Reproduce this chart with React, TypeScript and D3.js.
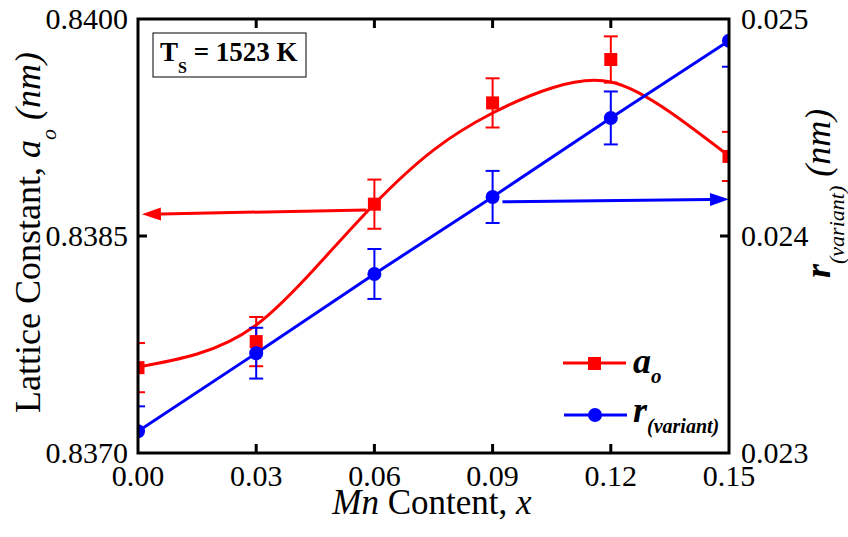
import React, { useEffect, useRef } from 'react'
import * as d3 from 'd3'

// Mn content x and measured values
const mnContent = [0, 0.03, 0.06, 0.09, 0.12, 0.15]
const latticeA = [0.83759, 0.83777, 0.83872, 0.83942, 0.83972, 0.83905]
const latticeErr = [0.00017, 0.00017, 0.00017, 0.00017, 0.00016, 0.00017]
const rVariant = [0.0231, 0.02346, 0.023825, 0.02418, 0.024544, 0.0249]
const rErr = [0.000115, 0.000117, 0.000115, 0.00012, 0.000122, 0.00012]

// fitted curve for a_o
const fitX = [0, 0.015, 0.03, 0.045, 0.06, 0.075, 0.09, 0.105, 0.12, 0.135, 0.15]
const fitA = [0.837594, 0.837684, 0.837885, 0.838279, 0.838721, 0.839094, 0.83935, 0.839523, 0.839565, 0.839357, 0.839053]

const xTicks = [0, 0.03, 0.06, 0.09, 0.12, 0.15]
const leftTicks = [0.837, 0.8385, 0.84]
const rightTicks = [0.023, 0.024, 0.025]

// arrows pointing to each axis: [x, value]
const redArrow = [[0.058, 0.83868], [0.001, 0.83865]]
const blueArrow = [[0.0925, 0.024158], [0.15, 0.024169]]

const RED = '#ff0000'
const BLUE = '#0000ff'
const FONT = 'Liberation Serif, Times New Roman, serif'

const App = () => {
  const ref = useRef<SVGSVGElement>(null)

  useEffect(() => {
    document.body.style.margin = '0'
    const width = 848
    const height = 537
    const left = 138
    const right = 729
    const top = 19
    const bottom = 453

    const svg = d3.select(ref.current)
    svg.selectAll('*').remove()
    svg.attr('width', width).attr('height', height)

    const x = d3.scaleLinear().domain([0, 0.15]).range([left, right])
    const yL = d3.scaleLinear().domain([0.837, 0.84]).range([bottom, top])
    const yR = d3.scaleLinear().domain([0.023, 0.025]).range([bottom, top])

    svg
      .append('defs')
      .append('clipPath')
      .attr('id', 'plot-clip')
      .append('rect')
      .attr('x', left)
      .attr('y', top)
      .attr('width', right - left)
      .attr('height', bottom - top)

    const plot = svg.append('g').attr('clip-path', 'url(#plot-clip)')

    // a_o fit curve
    const fitLine = d3
      .line<number>()
      .x((d, i) => x(fitX[i]))
      .y((d) => yL(d))
      .curve(d3.curveNatural)
    plot
      .append('path')
      .attr('d', fitLine(fitA))
      .attr('fill', 'none')
      .attr('stroke', RED)
      .attr('stroke-width', 3)

    // r line
    const rLine = d3
      .line<number>()
      .x((d, i) => x(mnContent[i]))
      .y((d) => yR(d))
    plot
      .append('path')
      .attr('d', rLine(rVariant))
      .attr('fill', 'none')
      .attr('stroke', BLUE)
      .attr('stroke-width', 3)

    const errorBars = (vals: number[], errs: number[], y: d3.ScaleLinear<number, number>, color: string) => {
      const g = plot.append('g').attr('stroke', color).attr('stroke-width', 2)
      vals.forEach((v, i) => {
        const cx = x(mnContent[i])
        const y1 = y(v - errs[i])
        const y2 = y(v + errs[i])
        g.append('line').attr('x1', cx).attr('x2', cx).attr('y1', y1).attr('y2', y2)
        g.append('line').attr('x1', cx - 7).attr('x2', cx + 7).attr('y1', y1).attr('y2', y1)
        g.append('line').attr('x1', cx - 7).attr('x2', cx + 7).attr('y1', y2).attr('y2', y2)
      })
    }
    errorBars(latticeA, latticeErr, yL, RED)
    errorBars(rVariant, rErr, yR, BLUE)

    plot
      .selectAll('rect.sq')
      .data(latticeA)
      .enter()
      .append('rect')
      .attr('x', (d, i) => x(mnContent[i]) - 6.5)
      .attr('y', (d) => yL(d) - 6.5)
      .attr('width', 13)
      .attr('height', 13)
      .attr('fill', RED)

    plot
      .selectAll('circle.dot')
      .data(rVariant)
      .enter()
      .append('circle')
      .attr('cx', (d, i) => x(mnContent[i]))
      .attr('cy', (d) => yR(d))
      .attr('r', 7)
      .attr('fill', BLUE)

    // arrows
    const arrow = (pts: number[][], y: d3.ScaleLinear<number, number>, color: string) => {
      const x1 = x(pts[0][0])
      const y1 = y(pts[0][1])
      const x2 = x(pts[1][0])
      const y2 = y(pts[1][1])
      const ang = Math.atan2(y2 - y1, x2 - x1)
      const len = 19
      const hw = 6.5
      const bx = x2 - len * Math.cos(ang)
      const by = y2 - len * Math.sin(ang)
      svg
        .append('line')
        .attr('x1', x1)
        .attr('y1', y1)
        .attr('x2', bx)
        .attr('y2', by)
        .attr('stroke', color)
        .attr('stroke-width', 3)
      svg
        .append('path')
        .attr(
          'd',
          `M${x2},${y2}L${bx + hw * Math.sin(ang)},${by - hw * Math.cos(ang)}L${bx - hw * Math.sin(ang)},${by + hw * Math.cos(ang)}Z`
        )
        .attr('fill', color)
    }
    arrow(redArrow, yL, RED)
    arrow(blueArrow, yR, BLUE)

    // frame and ticks
    const axes = svg.append('g').attr('stroke', 'black').attr('stroke-width', 3)
    axes
      .append('rect')
      .attr('x', left)
      .attr('y', top)
      .attr('width', right - left)
      .attr('height', bottom - top)
      .attr('fill', 'none')
      .attr('stroke-linecap', 'square')
    xTicks.slice(1, -1).forEach((t) => {
      axes.append('line').attr('x1', x(t)).attr('x2', x(t)).attr('y1', bottom).attr('y2', bottom - 9)
      axes.append('line').attr('x1', x(t)).attr('x2', x(t)).attr('y1', top).attr('y2', top + 9)
    })
    leftTicks.slice(1, -1).forEach((t) => {
      axes.append('line').attr('x1', left).attr('x2', left + 9).attr('y1', yL(t)).attr('y2', yL(t))
    })
    rightTicks.slice(1, -1).forEach((t) => {
      axes.append('line').attr('x1', right).attr('x2', right - 9).attr('y1', yR(t)).attr('y2', yR(t))
    })

    // tick labels
    svg
      .selectAll('text.xt')
      .data(xTicks)
      .enter()
      .append('text')
      .attr('x', (d) => x(d))
      .attr('y', 486)
      .attr('text-anchor', 'middle')
      .attr('font-family', FONT)
      .style('font-size', '30px')
      .text((d) => d3.format('.2f')(d))
    svg
      .selectAll('text.yl')
      .data(leftTicks)
      .enter()
      .append('text')
      .attr('x', 128)
      .attr('y', (d) => yL(d) + 10)
      .attr('text-anchor', 'end')
      .attr('font-family', FONT)
      .style('font-size', '30px')
      .text((d) => d3.format('.4f')(d))
    svg
      .selectAll('text.yr')
      .data(rightTicks)
      .enter()
      .append('text')
      .attr('x', 741)
      .attr('y', (d) => yR(d) + 10)
      .attr('text-anchor', 'start')
      .attr('font-family', FONT)
      .style('font-size', '30px')
      .text((d) => d3.format('.3f')(d))

    const addSpans = (
      t: d3.Selection<SVGTextElement, unknown, null, undefined>,
      parts: [string, string, number, number, string?][]
    ) => {
      parts.forEach(([txt, style, size, dy, weight]) => {
        t.append('tspan')
          .attr('dy', dy)
          .style('font-style', style)
          .style('font-size', `${size}px`)
          .style('font-weight', weight || 'normal')
          .text(txt)
      })
    }

    // x axis title
    const xt = svg
      .append('text')
      .attr('x', 432)
      .attr('y', 514)
      .attr('text-anchor', 'middle')
      .attr('font-family', FONT)
      .style('white-space', 'pre')
    addSpans(xt, [
      ['Mn', 'italic', 35, 0],
      [' Content, ', 'normal', 35, 0],
      ['x', 'italic', 35, 0],
    ])

    // left title
    const lt = svg
      .append('text')
      .attr('transform', 'translate(40,413) rotate(-90)')
      .attr('text-anchor', 'start')
      .attr('font-family', FONT)
      .style('white-space', 'pre')
    addSpans(lt, [
      ['Lattice Constant, ', 'normal', 36, 0],
      ['a', 'italic', 36, 0],
      ['o', 'italic', 22, 16],
      [' (nm)', 'italic', 36, -16],
    ])

    // right title
    const rt = svg
      .append('text')
      .attr('transform', 'translate(830,278) rotate(-90)')
      .attr('text-anchor', 'start')
      .attr('font-family', FONT)
      .style('white-space', 'pre')
    addSpans(rt, [
      ['r', 'italic', 36, 0, 'bold'],
      ['(variant)', 'italic', 22, 14],
      [' (nm)', 'italic', 36, -14],
    ])

    // temperature label
    svg
      .append('rect')
      .attr('x', 153)
      .attr('y', 33)
      .attr('width', 153)
      .attr('height', 44)
      .attr('fill', 'white')
      .attr('stroke', 'black')
      .attr('stroke-width', 1)
    const ts = svg
      .append('text')
      .attr('x', 160)
      .attr('y', 61)
      .attr('font-family', FONT)
      .style('white-space', 'pre')
    addSpans(ts, [
      ['T', 'normal', 27, 0, 'bold'],
      ['S', 'normal', 16, 12, 'bold'],
      [' = 1523 K', 'normal', 27, -12, 'bold'],
    ])

    // legend
    const legend = svg.append('g')
    legend.append('line').attr('x1', 563).attr('x2', 626).attr('y1', 363).attr('y2', 363).attr('stroke', RED).attr('stroke-width', 3)
    legend.append('rect').attr('x', 588).attr('y', 357).attr('width', 13).attr('height', 13).attr('fill', RED)
    legend.append('line').attr('x1', 564).attr('x2', 627).attr('y1', 415).attr('y2', 415).attr('stroke', BLUE).attr('stroke-width', 3)
    legend.append('circle').attr('cx', 595).attr('cy', 415).attr('r', 7).attr('fill', BLUE)
    const la = legend.append('text').attr('x', 633).attr('y', 373).attr('font-family', FONT)
    addSpans(la, [
      ['a', 'italic', 36, 0, 'bold'],
      ['o', 'italic', 21, 10, 'bold'],
    ])
    const lr = legend.append('text').attr('x', 633).attr('y', 422).attr('font-family', FONT)
    addSpans(lr, [
      ['r', 'italic', 36, 0, 'bold'],
      ['(variant)', 'italic', 20, 11, 'bold'],
    ])
  }, [])

  return <svg ref={ref} width={848} height={537} style={{ display: 'block' }} />
}

export default App
